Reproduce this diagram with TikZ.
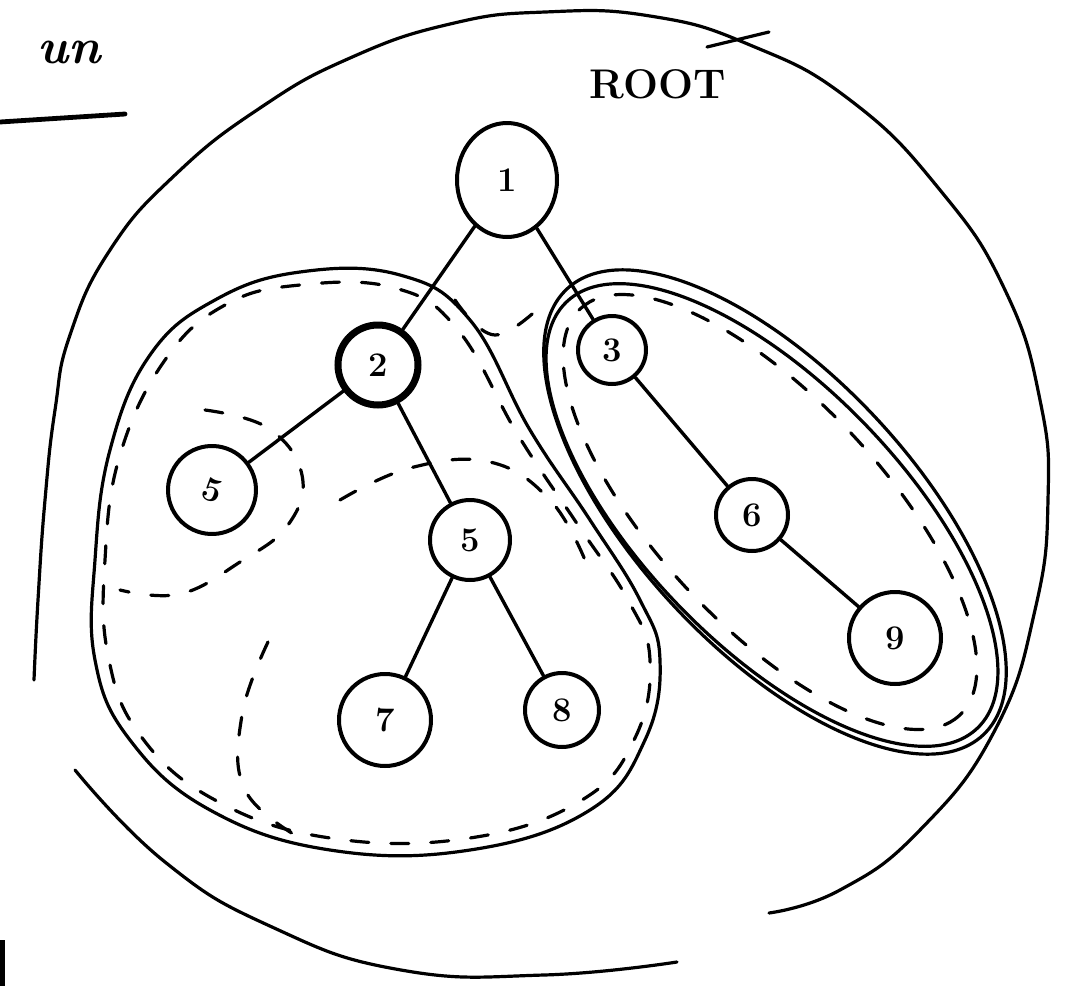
\documentclass[tikz,border=0pt]{standalone}
\usepackage{tikz}
\usetikzlibrary{positioning,calc,shapes.geometric}
\tikzset{
  vtx/.style={circle, draw, line width=2pt, minimum size=34pt, inner sep=0pt, font=\LARGE\bfseries},
  pen/.style={line width=1.6pt, line cap=round, line join=round},
  dashpen/.style={pen, dash pattern=on 9pt off 11pt},
  edge/.style={line width=1.7pt, line cap=round}
}
\begin{document}
\begin{tikzpicture}[x=0.5pt,y=-0.5pt]
\useasboundingbox (0,0) rectangle (1067,986);
\fill[white] (0,0) rectangle (1067,986);
% heading, cut at the edge
\node[anchor=east, font=\Huge\bfseries\itshape] (head) at (108,52) {un};
\draw[line width=2.4pt, line cap=round] (0,122) -- (125,114);
\draw[line width=3pt] (2,940) -- (2,986);
% outer circle
\draw[pen] plot[smooth, tension=0.8] coordinates {(34,680) (38,600) (45,500) (55,410) (70,335) (110,250) (175,175) (260,108) (350,58) (450,24) (545,12) (650,16) (750,45) (850,100) (940,190) (1005,290) (1040,400) (1048,500) (1035,610) (995,730) (920,830) (840,890) (769,913)};
\draw[pen] plot[smooth, tension=0.8] coordinates {(75,770) (165,862) (272,927) (401,970) (544,975) (677,962)};
\draw[pen] (707,47) -- (769,32);
\node[font=\huge\bfseries] (root) at (658,84) {ROOT};
% left group
\draw[pen] plot[smooth cycle, tension=0.7] coordinates {(300,272) (215,300) (150,355) (110,450) (95,560) (95,660) (130,740) (210,810) (330,850) (470,850) (590,810) (645,740) (660,660) (640,600) (590,520) (530,430) (470,320) (400,275)};
\draw[dashpen] plot[smooth cycle, tension=0.7] coordinates {(300,285) (225,305) (165,360) (120,455) (105,560) (108,655) (140,735) (215,800) (330,838) (470,838) (582,800) (635,738) (650,660) (628,600) (578,525) (518,435) (458,330) (395,288)};
\draw[dashpen] plot[smooth, tension=0.7] coordinates {(205,410) (268,428) (302,475) (288,525) (240,562) (180,594) (120,590)};
\draw[dashpen] plot[smooth, tension=0.7] coordinates {(340,500) (410,468) (490,462) (550,500) (585,560)};
\draw[dashpen] plot[smooth, tension=0.7] coordinates {(268,642) (242,715) (245,790) (300,838)};
% right group
\draw[pen, rotate around={-47:(775,512)}] (775,512) ellipse[x radius=305, y radius=138];
\draw[pen, rotate around={-46:(772,515)}] (772,515) ellipse[x radius=296, y radius=130];
\draw[dashpen, rotate around={-47:(770,512)}] (770,512) ellipse[x radius=278, y radius=113];
\draw[dashpen] plot[smooth, tension=0.7] coordinates {(455,300) (495,335) (545,302)};
% tree
\node[vtx, ellipse, minimum width=50pt, minimum height=57pt] (n1) at (507,180) {1};
\node[vtx, line width=3.5pt, minimum size=40pt] (n2) at (378,365) {2};
\node[vtx] (n3) at (612,350) {3};
\node[vtx, minimum size=44pt, rotate=-20] (n5a) at (212,490) {5};
\node[vtx, minimum size=40pt] (n5b) at (470,540) {5};
\node[vtx, minimum size=36pt] (n6) at (752,515) {6};
\node[vtx, minimum size=46pt] (n9) at (895,638) {9};
\node[vtx, minimum size=46pt] (n7) at (385,720) {7};
\node[vtx, minimum size=37pt] (n8) at (562,710) {8};
\draw[edge] (n1) -- (n2);
\draw[edge] (n1) -- (n3);
\draw[edge] (n2) -- (n5a);
\draw[edge] (n2) -- (n5b);
\draw[edge] (n5b) -- (n7);
\draw[edge] (n5b) -- (n8);
\draw[edge] (n3) -- (n6);
\draw[edge] (n6) -- (n9);
\end{tikzpicture}
\end{document}
